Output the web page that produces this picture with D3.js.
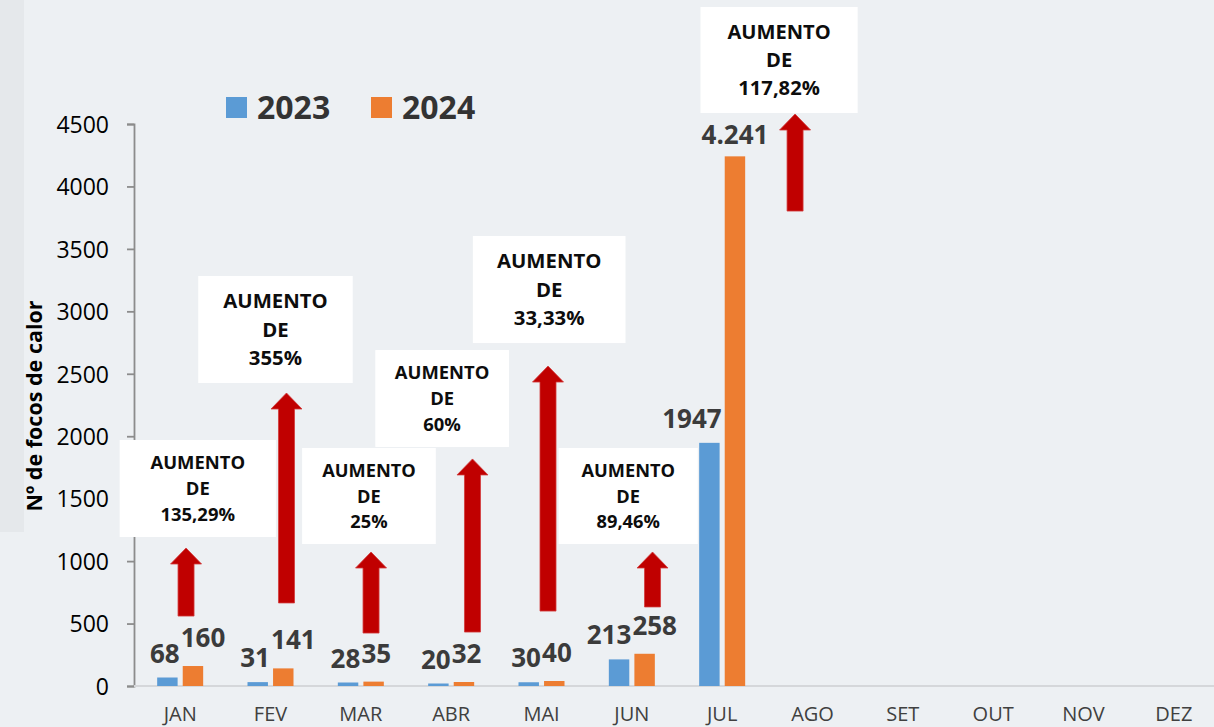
<!DOCTYPE html>
<html>
<head>
<meta charset="utf-8">
<script src="https://cdn.jsdelivr.net/npm/d3@7"></script>
<style>
  html, body { margin: 0; padding: 0; background: #edf0f3; }
  svg { display: block; font-family: "Open Sans", sans-serif; }
</style>
</head>
<body>
<svg width="1214" height="727"></svg>
<script>
// data
const months = ["JAN", "FEV", "MAR", "ABR", "MAI", "JUN", "JUL", "AGO", "SET", "OUT", "NOV", "DEZ"];
const series = ["2023", "2024"];
const values2023 = [68, 31, 28, 20, 30, 213, 1947];
const values2024 = [160, 141, 35, 32, 40, 258, 4241];
const labels2024 = ["160", "141", "35", "32", "40", "258", "4.241"];
const yTicks = [0, 500, 1000, 1500, 2000, 2500, 3000, 3500, 4000, 4500];
const increases = ["135,29%", "355%", "25%", "60%", "33,33%", "89,46%", "117,82%"];

// annotation boxes: [left, right] in month units, [top, bottom] in values
const boxX = [[-0.17, 1.56], [0.70, 2.41], [1.85, 3.33], [2.66, 4.14], [3.74, 5.43], [4.69, 6.23], [6.26, 8.0]];
const boxY = [[1970, 1193], [3283, 2426], [1906, 1137], [2690, 1914], [3603, 2746], [1906, 1137], [5437, 4588]];
// arrows: center in month units, [bottom, tip] in values
const arrowX = [0.565, 1.677, 2.613, 3.736, 4.572, 5.729, 7.307];
const arrowY = [[560, 1105], [665, 2346], [424, 1073], [432, 1818], [600, 2562], [633, 1073], [3803, 4580]];

const colors = { "2023": "#5b9bd5", "2024": "#ed7d31" };

const svg = d3.select("svg");

// left strip
svg.append("rect").attr("x", 0).attr("y", 0).attr("width", 24).attr("height", 532).attr("fill", "#e5e8eb");

const x = d3.scaleBand().domain(months).range([135, 1219]).padding(0);
const xPos = d3.scaleLinear().domain([0, 12]).range([135, 1219]);
const xSub = d3.scaleBand().domain(series).range([-23, 23]).paddingInner(0.2);
const y = d3.scaleLinear().domain([0, 4500]).range([686, 124]);

// y axis
const yAxis = svg.append("g")
    .attr("transform", "translate(134,0)")
    .call(d3.axisLeft(y).tickValues(yTicks).tickFormat(d3.format("d"))
      .tickSize(7).tickSizeOuter(7).tickPadding(18));
yAxis.selectAll("text").attr("font-size", 23).attr("fill", "#000").attr("font-family", "Open Sans").attr("dy", "0.36em");
yAxis.selectAll("line, path").attr("stroke", "#8c8c8c").attr("stroke-width", 1.8);

// baseline
svg.append("line")
    .attr("x1", 134).attr("x2", 1214)
    .attr("y1", y(0)).attr("y2", y(0))
    .attr("stroke", "#d5d7da").attr("stroke-width", 2);

// x labels
const xAxis = svg.append("g")
    .attr("transform", `translate(0,${y(0)})`)
    .call(d3.axisBottom(x).tickSize(0).tickPadding(21));
xAxis.select(".domain").remove();
xAxis.selectAll("text").attr("font-size", 20).attr("fill", "#404040").attr("font-family", "Open Sans");

// bars
const rows = values2023.map((v, i) => ({ month: months[i], "2023": v, "2024": values2024[i], label2024: labels2024[i] }));
const groups = svg.append("g").selectAll("g")
  .data(rows)
  .join("g")
    .attr("transform", d => `translate(${x(d.month) + x.bandwidth() / 2},0)`);

groups.selectAll("rect")
  .data(d => series.map(s => ({ s, v: d[s] })))
  .join("rect")
    .attr("x", d => xSub(d.s))
    .attr("width", xSub.bandwidth())
    .attr("y", d => y(d.v))
    .attr("height", d => y(0) - y(d.v))
    .attr("fill", d => colors[d.s]);

// value labels
groups.append("text")
    .attr("x", xSub("2023") + xSub.bandwidth() + 2)
    .attr("y", d => y(d["2023"]) - 15)
    .attr("text-anchor", "end")
    .attr("font-size", 26).attr("font-weight", "bold").attr("fill", "#3b3b3b")
    .text(d => d["2023"]);

// tall bars get their label centred, short ones lean right
groups.append("text")
    .attr("x", d => d["2024"] > 1000 ? xSub("2024") + xSub.bandwidth() / 2 : xSub("2024") - 2)
    .attr("y", d => y(d["2024"]) - (d["2024"] > 1000 ? 12 : 19))
    .attr("text-anchor", d => d["2024"] > 1000 ? "middle" : "start")
    .attr("font-size", 26).attr("font-weight", "bold").attr("fill", "#3b3b3b")
    .text(d => d.label2024);

// arrows
const shaft = 8, head = 15.5, headLen = 16;
svg.append("g").selectAll("path")
  .data(arrowX.map((c, i) => ({ c, b: arrowY[i][0], t: arrowY[i][1] })))
  .join("path")
    .attr("d", d => {
      const cx = xPos(d.c), yb = y(d.b), yt = y(d.t), yh = yt + headLen;
      return `M${cx - shaft},${yb}L${cx - shaft},${yh}L${cx - head},${yh}L${cx},${yt}` +
             `L${cx + head},${yh}L${cx + shaft},${yh}L${cx + shaft},${yb}Z`;
    })
    .attr("fill", "#c00000")
    .attr("stroke", "#d23a3a").attr("stroke-width", 0.8);

// annotation boxes
const notes = svg.append("g").selectAll("g")
  .data(increases.map((p, i) => ({ p, x0: xPos(boxX[i][0]), x1: xPos(boxX[i][1]), y0: y(boxY[i][0]), y1: y(boxY[i][1]) })))
  .join("g");

notes.append("rect")
    .attr("x", d => d.x0).attr("y", d => d.y0)
    .attr("width", d => d.x1 - d.x0).attr("height", d => d.y1 - d.y0)
    .attr("fill", "#fff");

notes.each(function(d) {
  const h = d.y1 - d.y0;
  const fs = h * 0.19, lh = fs * 1.4;
  const cy = (d.y0 + d.y1) / 2;
  d3.select(this).selectAll("text")
    .data(["AUMENTO", "DE", d.p])
    .join("text")
      .attr("x", (d.x0 + d.x1) / 2)
      .attr("y", (t, j) => cy + (j - 1) * lh)
      .attr("dy", "0.36em")
      .attr("text-anchor", "middle")
      .attr("font-size", fs).attr("font-weight", "bold").attr("fill", "#0d0d0d")
      .text(t => t);
});

// legend
const legend = svg.append("g").selectAll("g")
  .data(series)
  .join("g")
    .attr("transform", (d, i) => `translate(${226 + i * 145},97)`);
legend.append("rect").attr("width", 21).attr("height", 21).attr("fill", d => colors[d]);
legend.append("text")
    .attr("x", 31).attr("y", 22)
    .attr("font-size", 32).attr("font-weight", "bold").attr("fill", "#333")
    .text(d => d);

// y title
svg.append("text")
    .attr("transform", "translate(42,406) rotate(-90)")
    .attr("text-anchor", "middle")
    .attr("font-size", 21.5).attr("font-weight", "bold").attr("fill", "#000")
    .text("Nº de focos de calor");
</script>
</body>
</html>
